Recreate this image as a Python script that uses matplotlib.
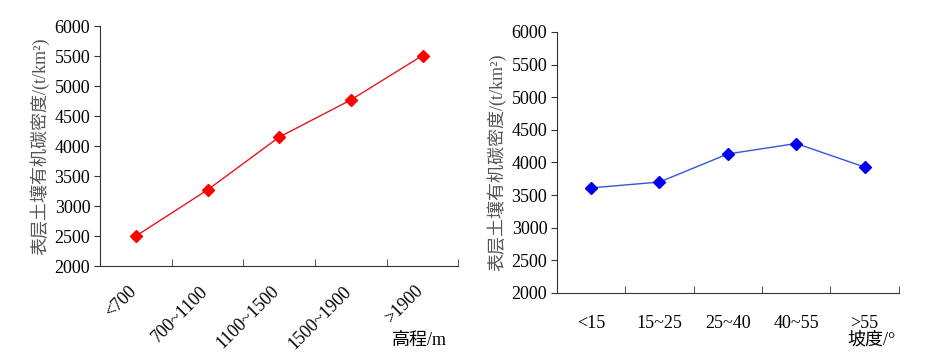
import matplotlib.pyplot as plt
from matplotlib.transforms import ScaledTranslation

plt.rcParams['font.family'] = ['Liberation Serif', 'Noto Sans CJK SC', 'DejaVu Sans']

# elevation panel
elev_labels = ['<700', '700~1100', '1100~1500', '1500~1900', '>1900']
elev_values = [2500, 3270, 4150, 4770, 5510]

# slope panel
slope_labels = ['<15', '15~25', '25~40', '40~55', '>55']
slope_values = [3610, 3700, 4130, 4290, 3930]

yticks = [2000, 2500, 3000, 3500, 4000, 4500, 5000, 5500, 6000]
ylabel = '表层土壤有机碳密度/(t/km²)'

fig = plt.figure(figsize=(9.26, 3.63), dpi=100)
ax1 = fig.add_axes([0.108, 0.267, 0.387, 0.661])
ax2 = fig.add_axes([0.6015, 0.193, 0.369, 0.719])


def style(ax):
    ax.set_ylim(2000, 6000)
    ax.set_yticks(yticks)
    ax.set_xlim(-0.5, 4.5)
    ax.set_xticks(range(5))
    ax.set_xticks([0.5, 1.5, 2.5, 3.5, 4.5], minor=True)
    ax.tick_params(axis='x', which='major', length=0)
    ax.tick_params(axis='x', which='minor', direction='in', length=5, color='#333333')
    ax.tick_params(axis='y', direction='out', length=4, labelsize=13, color='#333333', pad=3)
    ax.tick_params(axis='x', labelsize=13)
    for s in ['top', 'right']:
        ax.spines[s].set_visible(False)
    for s in ['left', 'bottom']:
        ax.spines[s].set_color('#333333')
    ax.set_ylabel(ylabel, fontsize=13, color='#555555', labelpad=4)


style(ax1)
ax1.plot(range(5), elev_values, color='#e8141e', lw=1, marker='D', ms=6.5,
         mfc='#ff0000', mec='#ff0000')
ax1.set_xticklabels(elev_labels, rotation=45, ha='right', rotation_mode='anchor')
ax1.tick_params(axis='x', which='major', pad=12)
shift = ScaledTranslation(-6 / 72, 0, fig.dpi_scale_trans)
for lab in ax1.get_xticklabels():
    lab.set_transform(lab.get_transform() + shift)
fig.text(447 / 926, 1 - 345 / 363, '高程/m', ha='right', va='baseline', fontsize=13)

style(ax2)
ax2.plot(range(5), slope_values, color='#3355dd', lw=1, marker='D', ms=6.5,
         mfc='#0000ee', mec='#0000ee')
ax2.set_xticklabels(slope_labels)
ax2.tick_params(axis='x', which='major', pad=16)
fig.text(896 / 926, 1 - 345 / 363, '坡度/°', ha='right', va='baseline', fontsize=13)

fig.savefig('out.png', dpi=100)
